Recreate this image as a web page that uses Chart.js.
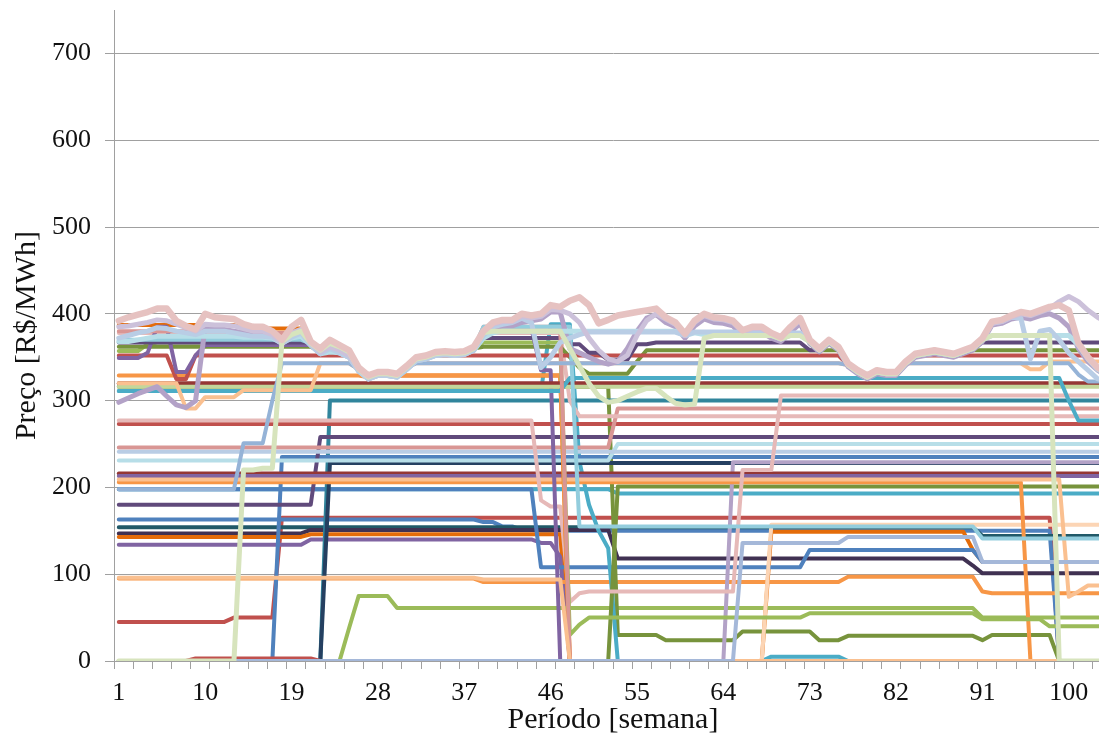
<!DOCTYPE html>
<html>
<head>
<meta charset="utf-8">
<script src="https://cdn.jsdelivr.net/npm/chart.js@4.4.1/dist/chart.umd.min.js"></script>
<style>
  html, body { margin: 0; padding: 0; background: #fff; overflow: hidden; }
  #wrap { position: relative; width: 1120px; height: 738px; }
</style>
</head>
<body>
<div id="wrap"><canvas id="c" width="1120" height="738"></canvas></div>
<script>
// Weekly periods
const weeks = [1,2,3,4,5,6,7,8,9,10,11,12,13,14,15,16,17,18,19,20,21,22,23,24,25,26,27,28,29,30,
  31,32,33,34,35,36,37,38,39,40,41,42,43,44,45,46,47,48,49,50,51,52,53,54,55,56,57,58,59,60,
  61,62,63,64,65,66,67,68,69,70,71,72,73,74,75,76,77,78,79,80,81,82,83,84,85,86,87,88,89,90,
  91,92,93,94,95,96,97,98,99,100,101,102,103,104];

// Price axis ticks
const priceTicks = [0,100,200,300,400,500,600,700];

// Week-by-week prices for the upper, moving series (R$/MWh)
const envelope = [392,396,399,402,406,406,392,386,382,400, 396,395,394,388,385,385,380,370,385,393,
  368,360,370,364,358,338,329,333,333,331, 340,350,352,356,357,356,357,362,380,390,
  393,393,400,398,400,410,408,415,419,410, 389,393,398,400,402,404,406,396,390,377,
  392,400,396,395,392,381,385,385,378,373, 385,395,370,360,370,362,343,335,329,335,
  333,333,345,354,356,358,356,354,358,362, 372,391,393,398,402,400,404,408,410,404,
  366,350,338,332];
const lavBand = [385,386,388,390,393,392,388,384,380,388, 387,387,386,383,380,380,376,366,378,382,
  366,356,362,358,352,336,327,331,331,329, 338,348,350,354,355,354,355,360,378,388,
  391,391,397,395,397,405,404,400,390,372, 358,348,345,352,375,392,400,394,388,375,
  390,398,394,393,390,379,383,383,376,371, 383,393,368,358,368,360,341,333,327,333,
  331,331,343,352,354,356,354,352,356,360, 370,389,391,396,400,398,402,406,414,420,
  414,404,396,390];
const skyBand = [372,375,378,380,384,383,380,378,376,380, 380,380,378,376,374,374,373,366,373,378,
  364,354,360,355,350,334,325,329,329,327, 336,346,348,352,353,352,353,358,375,385,
  388,390,395,390,338,350,367,372,376,379, 379,379,379,379,379,379,379,379,379,375,
  379,379,379,379,379,378,378,378,376,371, 378,378,368,358,368,360,341,333,327,333,
  331,331,343,352,354,356,354,352,356,360, 370,389,391,396,395,348,380,382,370,355,
  345,335,325,322];
const iceBand = [368,368,370,372,374,374,374,374,374,374, 374,374,374,373,373,373,372,366,372,374,
  364,354,356,355,350,334,325,329,329,327, 336,346,348,352,353,352,353,358,372,378,
  380,380,380,380,380,380,380,380,380,380, 380,380,380,380,380,380,380,380,380,375,
  378,376,376,376,376,376,376,376,375,371, 375,375,368,358,368,360,341,333,327,333,
  331,331,343,352,354,356,354,352,356,360, 370,375,375,375,375,375,375,375,375,375,
  364,348,336,330];
const paleGreen = [0,0,0,0,0,0,0,0,0,0, 0,0,0,220,220,222,222,368,376,380,
  366,358,366,362,356,336,327,331,331,329, 338,348,350,354,355,354,355,360,378,380,
  380,380,380,380,380,380,380,360,340,320, 305,298,300,305,310,314,314,305,297,295,
  296,372,375,375,375,375,375,375,375,371, 375,375,368,358,368,360,341,333,327,333,
  331,331,343,352,354,356,354,352,356,360, 370,375,375,375,375,375,375,375,0,0,
  0,0,0,0];
const lavDip = [298,303,308,312,316,305,295,292,300,385, 382,382,380,378,376,376,374,366,374,378,
  364,354,360,355,350,334,325,329,329,327, 336,346,348,352,353,352,353,358,375,384,
  386,386,390,392,394,402,402,360,355,350, 345,342,345,360,380,395,399,390,385,372,
  386,394,390,389,386,375,379,379,372,368, 379,389,366,356,366,358,339,331,325,331,
  329,329,341,350,352,354,352,350,354,358, 368,387,389,394,396,394,398,400,395,385,
  360,345,335,328];

// Step-wise series: each pair is [price, last week at that price]
const redLow    = [[45,12],[50,17],[165,98],[0,104]];
const blueLow   = [[163,38],[160,40],[155,42],[151,44],[150,98],[0,104]];
const tealLow   = [[154,90],[144,104]];
const plumLow   = [[147,20],[151,52],[118,89],[110,90],[101,104]];
const amberLow  = [[143,20],[146,47],[0,68],[149,89],[128,90],[114,104]];
const violetLow = [[134,20],[140,44],[136,46],[120,47],[0,104]];
const aqua193   = [[198,52],[193,104]];
const blueMid   = [[198,44],[108,72],[128,90],[114,104]];
const orangeLow = [[95,38],[91,76],[97,90],[80,91],[78,104]];
const greenLow  = [[0,24],[38,25],[75,29],[61,90],[50,104]];
const oliveLow  = [[316,52],[30,57],[24,65],[34,73],[24,76],[29,90],[24,91],[30,98],[0,104]];
const aquaFall  = [[311,45],[388,48],[230,49],[180,50],[150,51],[130,52],[0,68],[5,76],[0,104]];
const sandLow   = [[0,68],[157,104]];
const oliveMid  = [[0,52],[201,104]];
const teal300   = [[0,22],[300,104]];
const navy228   = [[0,22],[228,104]];
const blue235   = [[0,17],[235,104]];
const lilac229  = [[0,64],[229,104]];
const plum258   = [[180,21],[258,104]];
const red272    = [[273,104]];
const brick216  = [[216,104]];
const violet212 = [[213,104]];
const orange206 = [[206,95],[0,104]];
const rose246   = [[246,52],[291,104]];
const ice250    = [[231,52],[250,104]];
const sky241    = [[241,104]];
const peach209  = [[209,99],[74,100],[80,101],[87,104]];
const blush277  = [[277,44],[185,45],[178,47],[68,48],[78,49],[80,65],[220,69],[306,104]];
const blush282  = [[378,20],[366,21],[358,22],[366,23],[362,24],[356,25],[336,26],[327,27],[331,29],[329,30],
  [338,31],[348,32],[350,33],[354,34],[355,35],[354,36],[355,37],[360,38],[378,47],[300,48],[282,104]];
const amberTop  = [[387,13],[383,20],[368,21],[358,22],[368,23],[362,24],[356,25],[336,26],[329,47],[0,104]];
const orangeTop = [[329,26],[327,27],[329,47],[0,104]];
const greenTop  = [[357,3],[365,4],[367,21],[358,22],[367,23],[362,24],[356,25],[336,26],[327,27],[331,29],
  [329,30],[338,31],[348,32],[350,33],[354,34],[355,35],[354,36],[355,37],[360,38],[367,47],[30,48],[42,49],
  [50,72],[55,90],[48,97],[40,104]];
const forestTop = [[362,21],[358,22],[362,24],[356,25],[336,26],[327,27],[331,29],[329,30],[338,31],[348,32],
  [350,33],[354,34],[355,35],[354,36],[355,37],[360,38],[362,47],[350,48],[338,49],[331,54],[345,55],[358,76],
  [341,77],[333,78],[327,79],[333,80],[331,82],[343,83],[352,84],[354,85],[356,86],[354,87],[352,88],[356,89],[358,104]];
const red352    = [[352,6],[325,8],[352,25],[336,26],[327,27],[331,29],[329,30],[338,31],[348,32],[350,33],
  [352,76],[341,77],[333,78],[327,79],[333,80],[331,82],[343,83],[352,104]];
const violetTop = [[349,3],[355,4],[385,6],[333,8],[352,9],[364,21],[358,22],[364,23],[362,24],[356,25],
  [336,26],[327,27],[331,29],[329,30],[338,31],[348,32],[350,33],[354,34],[355,35],[354,36],[355,37],[360,38],
  [383,44],[335,46],[0,104]];
const plumTop   = [[367,21],[358,22],[367,23],[362,24],[356,25],[336,26],[327,27],[331,29],[329,30],[338,31],
  [348,32],[350,33],[354,34],[355,35],[354,36],[355,37],[360,38],[372,47],[365,49],[355,51],[347,54],[365,56],
  [367,72],[358,74],[367,75],[360,76],[341,77],[333,78],[327,79],[333,80],[331,82],[343,83],[352,84],[354,85],
  [356,86],[354,87],[352,88],[356,89],[360,90],[367,104]];
const brick320  = [[320,104]];
const lime316   = [[316,104]];
const aqua311   = [[311,47],[326,99],[300,100],[277,104]];
const roseFall  = [[380,13],[378,20],[368,21],[358,22],[368,23],[362,24],[356,25],[336,26],[327,27],[331,29],
  [329,30],[338,31],[348,32],[350,33],[354,34],[355,35],[354,36],[355,37],[360,38],[385,47],[0,104]];
const peachTop  = [[320,7],[291,9],[304,13],[312,21],[343,25],[336,26],[327,27],[331,29],[329,30],[338,31],
  [343,76],[341,77],[333,78],[327,79],[333,80],[331,82],[343,95],[336,97],[345,104]];
const iceFall   = [[370,20],[366,21],[358,22],[366,23],[362,24],[356,25],[336,26],[327,27],[331,29],[329,30],
  [338,31],[348,32],[350,33],[354,34],[355,35],[354,36],[355,37],[360,38],[385,48],[155,90],[141,104]];
const periRise  = [[198,13],[251,16],[300,17],[343,25],[336,26],[327,27],[331,29],[329,30],[338,31],[343,76],
  [341,77],[333,78],[327,79],[333,80],[331,82],[343,100],[330,101],[322,104]];
const redTrace  = [[0,8],[3,21],[0,104]];
const peachLow  = [[96,38],[94,47],[0,104]];
const periLow   = [[0,65],[136,76],[143,90],[114,104]];

// Turn [price, lastWeek] runs into one value per week
function expand(runs) {
  const out = [];
  let w = 1;
  for (const [v, to] of runs) {
    while (w <= to) { out.push(v); w++; }
  }
  return out;
}

// Listed bottom-most first; later entries are painted over earlier ones
const series = [
  [expand(redLow), '#C0504D', 4],
  [expand(blueLow), '#4F81BD', 4],
  [expand(tealLow), '#215968', 4],
  [expand(plumLow), '#403152', 4],
  [expand(amberLow), '#E46C0A', 4],
  [expand(violetLow), '#8064A2', 4],
  [expand(aqua193), '#4BACC6', 4],
  [expand(blueMid), '#4F81BD', 4],
  [expand(orangeLow), '#F79646', 4],
  [expand(greenLow), '#9BBB59', 4],
  [expand(oliveLow), '#77933C', 4],
  [expand(aquaFall), '#4BACC6', 4],
  [expand(sandLow), '#FCD5B5', 4],
  [expand(oliveMid), '#77933C', 4],
  [expand(teal300), '#31859C', 4],
  [expand(navy228), '#254061', 4],
  [expand(blue235), '#4F81BD', 4],
  [expand(lilac229), '#B3A2C7', 4],
  [expand(plum258), '#604A7B', 4],
  [expand(red272), '#C0504D', 4],
  [expand(brick216), '#953735', 4],
  [expand(violet212), '#8064A2', 4],
  [expand(orange206), '#F79646', 4],
  [expand(rose246), '#D99694', 4],
  [expand(ice250), '#B7DEE8', 4],
  [expand(sky241), '#B9CDE5', 4],
  [expand(peach209), '#FAC090', 4],
  [expand(blush277), '#E6B9B8', 4],
  [expand(blush282), '#E6B9B8', 4],
  [expand(amberTop), '#E46C0A', 4],
  [expand(orangeTop), '#F79646', 4],
  [expand(greenTop), '#9BBB59', 4],
  [expand(forestTop), '#77933C', 4],
  [expand(red352), '#C0504D', 4],
  [expand(violetTop), '#8064A2', 4],
  [expand(plumTop), '#604A7B', 4],
  [expand(brick320), '#953735', 4],
  [expand(lime316), '#C3D69B', 4],
  [expand(aqua311), '#4BACC6', 4],
  [expand(roseFall), '#D99694', 4],
  [expand(peachTop), '#FAC090', 4],
  [expand(iceFall), '#93CDDD', 4],
  [expand(periRise), '#95B3D7', 4],
  [expand(redTrace), '#C0504D', 4],
  [expand(peachLow), '#FAC090', 4],
  [expand(periLow), '#A5B8D9', 4],
  [lavDip, '#B3A2C7', 5],
  [iceBand, '#B7DEE8', 5],
  [skyBand, '#B9CDE5', 5],
  [lavBand, '#CCC1DA', 5],
  [paleGreen, '#D7E4BD', 5],
  [envelope, '#E6C2C1', 6.5]
];

// Chart.js paints lower "order" values on top
const datasets = series.map(([data, color, width], i) => ({
  label: 'S' + (i + 1),
  data,
  order: series.length - i,
  borderColor: color,
  backgroundColor: color,
  borderWidth: width,
  pointRadius: 0,
  fill: false,
  tension: 0
}));

const axisGray = '#a0a0a0';
const textColor = '#111111';
const serif = 'Liberation Serif';

new Chart(document.getElementById('c'), {
  type: 'line',
  data: { labels: weeks.map(String), datasets },
  options: {
    responsive: false,
    animation: false,
    devicePixelRatio: 1,
    layout: { padding: { left: 0, right: 8, top: 10, bottom: 0 } },
    plugins: { legend: { display: false }, tooltip: { enabled: false } },
    elements: { line: { borderCapStyle: 'round', borderJoinStyle: 'round' } },
    scales: {
      x: {
        offset: true,
        grid: {
          display: true,
          drawOnChartArea: false,
          offset: true,
          tickLength: 8,
          tickColor: (ctx) => (ctx.index % 2 === 0 ? axisGray : 'rgba(0,0,0,0)')
        },
        border: { color: axisGray, width: 1 },
        ticks: {
          autoSkip: false,
          maxRotation: 0,
          minRotation: 0,
          padding: 9,
          color: textColor,
          font: { family: serif, size: 26 },
          callback: (v, i) => (i % 9 === 0 ? String(weeks[i]) : '')
        },
        title: {
          display: true,
          text: 'Período [semana]',
          color: textColor,
          font: { family: serif, size: 30 },
          padding: { top: 0, bottom: 0 }
        },
        afterFit: (s) => { s.height = 77; s.paddingLeft = 0; s.paddingRight = 0; }
      },
      y: {
        min: 0,
        max: 750,
        grid: { color: axisGray, lineWidth: 1, tickLength: 9, tickColor: axisGray },
        border: { color: axisGray, width: 1 },
        ticks: {
          stepSize: 100,
          padding: 14,
          color: textColor,
          font: { family: serif, size: 26 }
        },
        title: {
          display: true,
          text: 'Preço [R$/MWh]',
          color: textColor,
          font: { family: serif, size: 30 },
          padding: { top: 9, bottom: 0 }
        },
        afterBuildTicks: (s) => { s.ticks = priceTicks.map(v => ({ value: v })); },
        afterFit: (s) => { s.width = 114; s.paddingTop = 0; s.paddingBottom = 0; }
      }
    }
  }
});
</script>
</body>
</html>
